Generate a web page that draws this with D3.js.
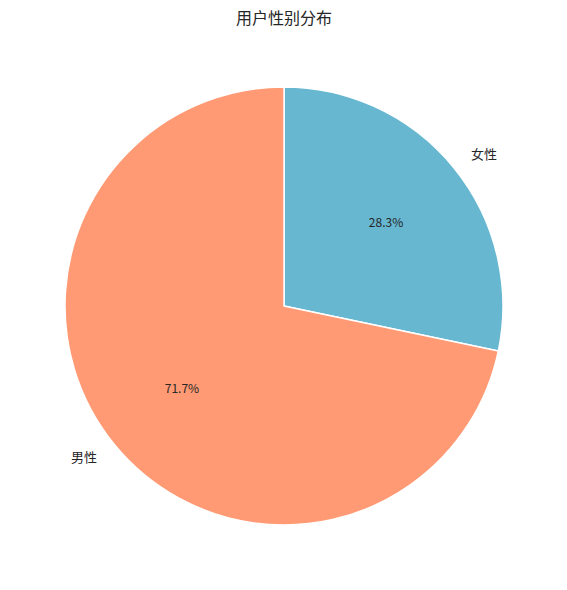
<!DOCTYPE html>
<html>
<head>
<meta charset="utf-8">
<script src="https://cdn.jsdelivr.net/npm/d3@7"></script>
<style>
  body { margin: 0; background: #fff; }
  text { font-family: "Noto Sans CJK SC", "DejaVu Sans", sans-serif; fill: #262626; }
</style>
</head>
<body>
<div id="chart"></div>
<script>
// 用户性别分布 data
var categories = ['女性', '男性'];
var shares = [28.3, 71.7];
var colours = ['#67b7d1', '#ff9a74'];

var W = 567, H = 590;
var cx = 284, cy = 306, r = 219;

var svg = d3.select('#chart').append('svg')
    .attr('width', W)
    .attr('height', H);

svg.append('text')
    .attr('x', cx)
    .attr('y', 24)
    .attr('text-anchor', 'middle')
    .style('font-size', '16px')
    .text('用户性别分布');

var pie = d3.pie().sort(null).startAngle(0).endAngle(2 * Math.PI);
var arcs = pie(shares);

var arc = d3.arc().innerRadius(0).outerRadius(r);

var g = svg.append('g').attr('transform', 'translate(' + cx + ',' + cy + ')');

g.selectAll('path.slice')
    .data(arcs)
  .enter().append('path')
    .attr('class', 'slice')
    .attr('d', arc)
    .attr('fill', function(d, i) { return colours[i]; })
    .attr('stroke', '#fff')
    .attr('stroke-width', 1.5)
    .attr('stroke-linejoin', 'round');

// points along mid-angle, measured clockwise from 12 o'clock
function at(d, k) {
  var a = (d.startAngle + d.endAngle) / 2;
  return [Math.sin(a) * r * k, -Math.cos(a) * r * k];
}

// category labels outside (1.1r)
g.selectAll('text.cat')
    .data(arcs)
  .enter().append('text')
    .attr('class', 'cat')
    .attr('x', function(d) { return at(d, 1.1)[0]; })
    .attr('y', function(d) { return at(d, 1.1)[1]; })
    .attr('dy', '0.35em')
    .attr('text-anchor', function(d) { return at(d, 1)[0] > 0 ? 'start' : 'end'; })
    .style('font-size', '13px')
    .text(function(d, i) { return categories[i]; });

// percentage labels inside (0.6r)
g.selectAll('text.pct')
    .data(arcs)
  .enter().append('text')
    .attr('class', 'pct')
    .attr('x', function(d) { return at(d, 0.6)[0]; })
    .attr('y', function(d) { return at(d, 0.6)[1]; })
    .attr('dy', '0.35em')
    .attr('text-anchor', 'middle')
    .style('font-size', '12px')
    .text(function(d) { return d.data.toFixed(1) + '%'; });
</script>
</body>
</html>
